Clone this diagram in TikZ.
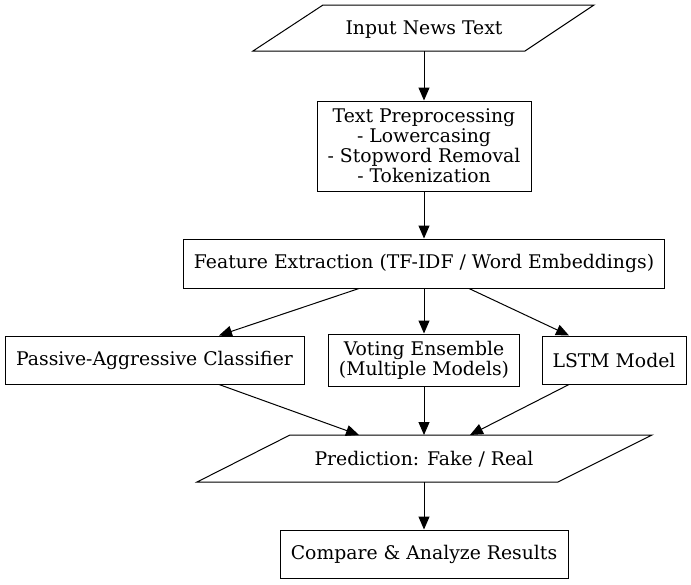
\documentclass[tikz,border=0pt]{standalone}
\usepackage{fontspec}
\setmainfont{DejaVu Serif}
\usetikzlibrary{arrows.meta}
\begin{document}
\begin{tikzpicture}[x=1pt,y=-1pt,
  every node/.style={font=\fontsize{18.8}{20}\selectfont, align=center},
  box/.style={draw, line width=1pt, inner sep=0pt},
  shp/.style={draw, line width=1pt},
  arr/.style={line width=1pt, -{Triangle[length=13pt,width=11pt]}}]
\useasboundingbox (0,0) rectangle (691,584);
% Input parallelogram
\draw[shp] (253,51) -- (323,5) -- (594,5) -- (525,51) -- cycle;
\node (in) at (424,29.5) {Input News Text};
\coordinate (inb) at (424,51);
% Preprocessing
\node[box, minimum width=214pt, minimum height=90pt] (pre) at (424,146)
  {Text Preprocessing\\- Lowercasing\\- Stopword Removal\\- Tokenization};
% Feature extraction
\node[box, minimum width=481pt, minimum height=49pt] (fe) at (424,263.5)
  {Feature Extraction (TF-IDF / Word Embeddings)};
% Models
\node[box, minimum width=299pt, minimum height=48pt] (pa) at (154.5,360)
  {Passive-Aggressive Classifier};
\node[box, minimum width=191pt, minimum height=52pt] (ve) at (424,360)
  {Voting Ensemble\\(Multiple Models)};
\node[box, minimum width=144pt, minimum height=48pt] (ls) at (614,360)
  {LSTM Model};
% Prediction parallelogram
\draw[shp] (197,482) -- (290,435) -- (652,435) -- (558,482) -- cycle;
\node (pr) at (424,459.5) {Prediction: Fake / Real};
\coordinate (prt) at (424,435);
\coordinate (prtl) at (359,435);
\coordinate (prtr) at (470,435);
\coordinate (prb) at (424,482);
% Compare
\node[box, minimum width=288pt, minimum height=48pt] (cmp) at (424,554)
  {Compare \& Analyze Results};
% Arrows
\draw[arr] (inb) -- (pre.north);
\draw[arr] (pre.south) -- (fe.north);
\draw[arr] (fe.south -| 359,0) -- (pa.north -| 219,0);
\draw[arr] (fe.south) -- (ve.north);
\draw[arr] (fe.south -| 469,0) -- (ls.north -| 569,0);
\draw[arr] (pa.south -| 219,0) -- (prtl);
\draw[arr] (ve.south) -- (prt);
\draw[arr] (ls.south -| 569,0) -- (prtr);
\draw[arr] (prb) -- (cmp.north);
\end{tikzpicture}
\end{document}
